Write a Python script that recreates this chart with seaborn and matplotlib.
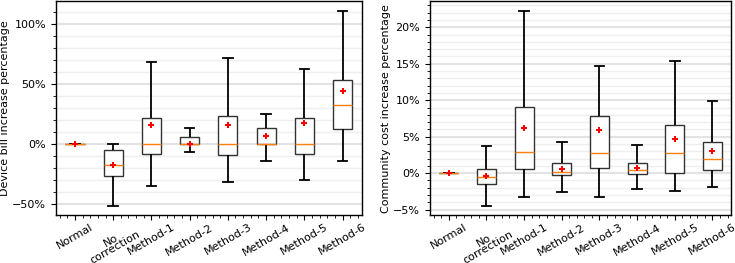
import numpy as np
import pandas as pd
import seaborn as sns
import matplotlib.pyplot as plt
from matplotlib.ticker import PercentFormatter, MultipleLocator, AutoMinorLocator

# --- data (in percent) ---
categories = ["Normal", "No\ncorrection", "Method-1", "Method-2",
              "Method-3", "Method-4", "Method-5", "Method-6"]

# device bill increase
bill_low = [0, -51.7, -35.0, -6.7, -31.1, -14.2, -30.0, -14.2]
bill_q1 = [0, -26.7, -8.3, 0.0, -8.9, 0.0, -8.3, 12.5]
bill_med = [0, -17.5, 0.0, 0.0, 0.0, 0.0, 0.0, 32.5]
bill_q3 = [0, -4.4, 22.2, 5.8, 23.3, 13.3, 22.2, 53.9]
bill_high = [0, 0.0, 68.3, 13.6, 71.7, 25.0, 62.5, 110.8]
bill_mean = [0, -17.5, 15.8, 0.0, 15.8, 6.7, 17.5, 44.2]

# community cost increase
comm_low = [0, -4.52, -3.29, -2.60, -3.29, -2.19, -2.47, -1.92]
comm_q1 = [0, -1.46, 0.55, -0.27, 0.68, -0.14, 0.0, 0.41]
comm_med = [0, -0.55, 2.88, 0.14, 2.74, 0.41, 2.74, 1.92]
comm_q3 = [0, 0.64, 9.13, 1.46, 7.90, 1.46, 6.67, 4.34]
comm_high = [0, 3.74, 22.2, 4.25, 14.75, 3.93, 15.34, 9.86]
comm_mean = [0, -0.41, 6.16, 0.55, 5.89, 0.73, 4.66, 3.01]


def long_form(lo, q1, med, q3, hi):
    rows = []
    for i, c in enumerate(categories):
        for v in (lo[i], q1[i], med[i], q3[i], hi[i]):
            rows.append({"method": c, "value": v})
    return pd.DataFrame(rows)


def draw(ax, stats, means, ylabel, major, ylim):
    df = long_form(*stats)
    sns.boxplot(data=df, x="method", y="value", order=categories, ax=ax,
                whis=(0, 100), width=0.5, showfliers=False,
                boxprops=dict(facecolor="white", edgecolor="#333333", linewidth=1.0),
                whiskerprops=dict(color="black", linewidth=1.3),
                capprops=dict(color="black", linewidth=1.3),
                medianprops=dict(color="#ff7f0e", linewidth=1.0))
    mdf = pd.DataFrame({"method": categories, "mean": means})
    sns.pointplot(data=mdf, x="method", y="mean", order=categories, ax=ax,
                  linestyle="none", marker="P", color="red", markersize=4.5,
                  markeredgewidth=0, errorbar=None)
    for ln in ax.lines[-2:]:
        ln.set_zorder(5)

    ax.set_xlim(-0.5, len(categories) - 0.5)
    ax.set_ylim(*ylim)
    ax.yaxis.set_major_locator(MultipleLocator(major))
    ax.yaxis.set_minor_locator(AutoMinorLocator(5))
    ax.xaxis.set_minor_locator(AutoMinorLocator(5))
    ax.yaxis.set_major_formatter(PercentFormatter(decimals=0))
    ax.set_axisbelow(True)
    ax.grid(which="major", axis="y", color="#e3e3e3", linewidth=1.5)
    ax.grid(which="minor", axis="y", color="#efefef", linewidth=1.0)
    ax.set_xlabel("")
    ax.set_ylabel(ylabel, fontsize=8, labelpad=1.5)
    ax.tick_params(axis="both", labelsize=8)
    ax.tick_params(axis="x", which="major", pad=1.5)
    for lab in ax.get_xticklabels():
        lab.set_rotation(30)
        lab.set_ha("center")
        lab.set_linespacing(0.8)
    for sp in ax.spines.values():
        sp.set_color("black")
        sp.set_linewidth(1.0)


fig = plt.figure(figsize=(7.35, 2.63), dpi=100)
ax1 = fig.add_axes([0.076, 0.182, 0.416, 0.814])
ax2 = fig.add_axes([0.585, 0.182, 0.41, 0.814])

draw(ax1, (bill_low, bill_q1, bill_med, bill_q3, bill_high), bill_mean,
     "Device bill increase percentage", 50, (-59, 119.5))
draw(ax2, (comm_low, comm_q1, comm_med, comm_q3, comm_high), comm_mean,
     "Community cost increase percentage", 5, (-5.75, 23.6))

fig.savefig("out.png", dpi=100)
